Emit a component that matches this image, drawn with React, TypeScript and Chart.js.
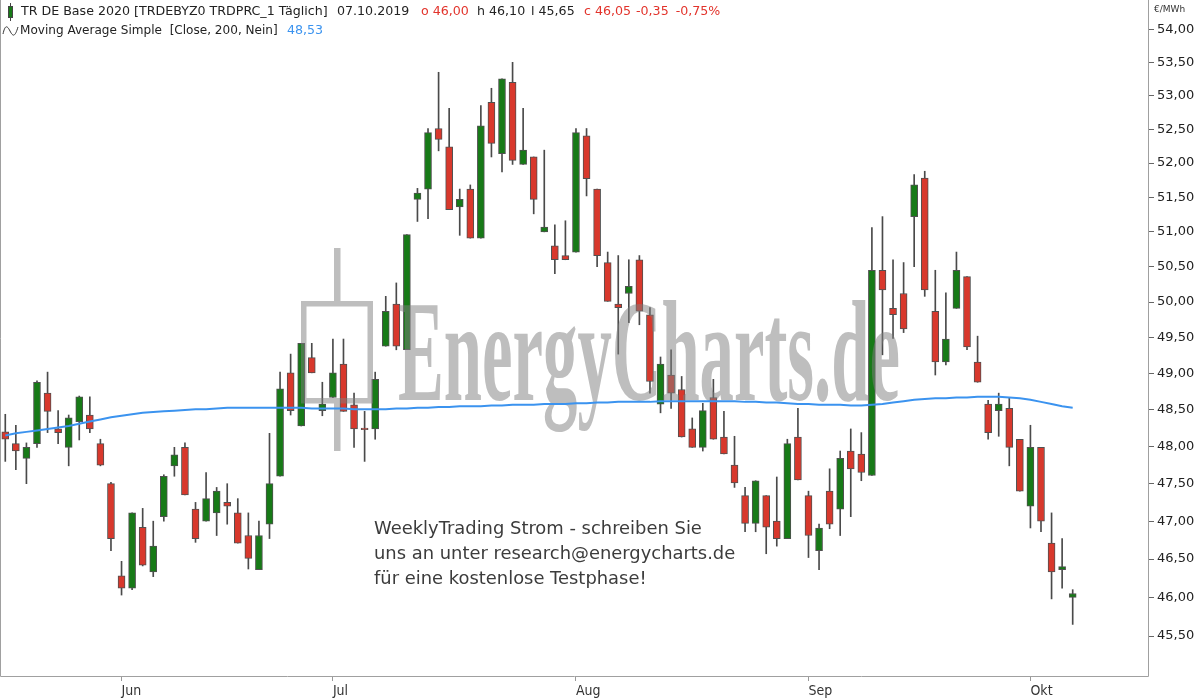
import React, { useEffect, useRef } from "react";
import { Chart, registerables } from "chart.js";
Chart.register(...registerables);

const dates = [
  "2019-05-17","2019-05-20","2019-05-21","2019-05-22","2019-05-23","2019-05-24","2019-05-27","2019-05-28","2019-05-29","2019-05-30","2019-05-31",
  "2019-06-03","2019-06-04","2019-06-05","2019-06-06","2019-06-07","2019-06-10","2019-06-11","2019-06-12","2019-06-13","2019-06-14",
  "2019-06-17","2019-06-18","2019-06-19","2019-06-20","2019-06-21","2019-06-24","2019-06-25","2019-06-26","2019-06-27","2019-06-28",
  "2019-07-01","2019-07-02","2019-07-03","2019-07-04","2019-07-05","2019-07-08","2019-07-09","2019-07-10","2019-07-11","2019-07-12",
  "2019-07-15","2019-07-16","2019-07-17","2019-07-18","2019-07-19","2019-07-22","2019-07-23","2019-07-24","2019-07-25","2019-07-26",
  "2019-07-29","2019-07-30","2019-07-31",
  "2019-08-01","2019-08-02","2019-08-05","2019-08-06","2019-08-07","2019-08-08","2019-08-09","2019-08-12","2019-08-13","2019-08-14",
  "2019-08-15","2019-08-16","2019-08-19","2019-08-20","2019-08-21","2019-08-22","2019-08-23","2019-08-26","2019-08-27","2019-08-28",
  "2019-08-29","2019-08-30",
  "2019-09-02","2019-09-03","2019-09-04","2019-09-05","2019-09-06","2019-09-09","2019-09-10","2019-09-11","2019-09-12","2019-09-13",
  "2019-09-16","2019-09-17","2019-09-18","2019-09-19","2019-09-20","2019-09-23","2019-09-24","2019-09-25","2019-09-26","2019-09-27",
  "2019-09-30",
  "2019-10-01","2019-10-02","2019-10-03","2019-10-04","2019-10-07",
];

const opens = [
  48.20,48.04,47.84,48.04,48.73,48.24,47.99,48.34,48.43,48.04,47.50,
  46.28,46.12,46.92,46.33,47.06,47.74,47.99,47.16,47.00,47.11,
  47.25,47.11,46.81,46.36,46.96,47.60,49.01,48.28,49.22,48.49,
  48.67,49.13,48.57,48.25,48.24,49.38,49.97,49.33,51.47,51.62,
  52.51,52.24,51.36,51.62,50.91,52.90,52.14,53.20,51.98,52.09,
  51.00,50.80,50.66,
  50.71,52.40,51.62,50.56,49.97,50.12,50.60,49.82,48.58,48.98,
  48.78,48.24,47.99,48.67,48.13,47.75,47.34,46.97,47.34,47.00,
  46.77,48.13,
  47.34,46.61,47.40,47.16,47.94,47.90,47.61,50.45,49.91,50.12,
  51.22,51.78,49.87,49.16,49.91,50.36,49.16,48.58,48.49,48.52,
  48.10,
  47.20,47.99,46.71,46.36,46.00,
];
const highs = [
  48.44,48.29,48.05,48.90,49.02,48.49,48.43,48.69,48.68,48.10,47.52,
  46.47,47.11,47.17,47.00,47.62,47.99,48.05,47.25,47.65,47.45,
  47.50,47.30,47.11,47.00,48.18,49.02,49.27,49.42,49.42,48.88,
  49.48,49.48,48.73,48.48,49.02,50.08,50.27,50.96,51.63,52.51,
  53.35,52.81,51.62,51.68,52.85,53.11,53.25,53.50,52.81,52.09,
  52.19,51.10,51.16,
  52.51,52.51,51.62,50.71,50.66,50.60,50.66,49.92,49.23,49.33,
  48.96,48.39,48.59,48.92,48.48,48.14,47.45,47.54,47.34,47.59,
  48.10,48.52,
  47.40,46.96,47.70,47.94,48.24,48.19,51.06,51.22,50.60,50.56,
  51.83,51.88,50.45,50.13,50.71,50.36,49.52,48.63,48.73,48.66,
  48.10,
  48.29,47.99,47.11,46.77,46.10,
];
const lows = [
  47.80,47.69,47.50,47.99,48.19,48.04,47.74,48.09,48.19,47.74,46.61,
  46.03,46.10,46.41,46.27,47.00,47.60,47.35,46.72,47.00,46.81,
  46.96,46.71,46.37,46.36,46.77,47.60,48.43,48.28,49.01,48.42,
  48.67,48.48,47.99,47.80,48.10,49.38,49.33,49.33,51.15,51.19,
  52.18,51.32,50.95,50.91,50.91,52.09,51.87,51.98,51.98,51.26,
  51.00,50.40,50.60,
  50.71,51.52,50.50,50.01,49.27,49.71,49.68,48.73,48.46,48.52,
  48.13,47.99,47.94,48.10,47.90,47.45,46.86,46.86,46.57,46.67,
  46.77,47.55,
  46.52,46.36,46.90,46.81,47.06,47.54,47.61,49.26,49.49,49.57,
  50.50,50.08,48.98,49.12,49.91,49.33,48.88,48.10,48.14,47.74,
  47.40,
  46.91,46.86,45.98,46.12,45.65,
];
const closes = [
  48.10,47.94,47.99,48.88,48.48,48.19,48.39,48.68,48.24,47.75,46.77,
  46.12,47.11,46.42,46.67,47.60,47.89,47.35,46.77,47.30,47.40,
  47.20,46.71,46.51,46.81,47.50,48.79,48.49,49.42,49.01,48.58,
  49.01,48.48,48.24,48.23,48.92,49.87,49.38,50.96,51.56,52.45,
  52.35,51.32,51.47,50.91,52.55,52.29,53.25,52.04,52.19,51.47,
  51.07,50.60,50.60,
  52.45,51.77,50.66,50.01,49.92,50.22,49.87,48.89,49.13,48.73,
  48.13,47.99,48.49,48.10,47.90,47.51,46.97,47.54,46.92,46.77,
  48.04,47.55,
  46.81,46.91,46.96,47.84,47.70,47.65,50.45,50.17,49.82,49.62,
  51.68,50.17,49.16,49.48,50.45,49.37,48.88,48.19,48.58,47.99,
  47.40,
  47.99,47.00,46.33,46.40,46.05,
];
const ma200 = [
  48.15,48.18,48.20,48.22,48.24,48.26,48.28,48.31,48.34,48.37,48.40,
  48.42,48.44,48.46,48.47,48.48,48.49,48.50,48.51,48.51,48.52,
  48.53,48.53,48.53,48.53,48.53,48.53,48.53,48.53,48.52,48.52,
  48.52,48.52,48.51,48.51,48.51,48.51,48.52,48.52,48.53,48.53,
  48.54,48.54,48.55,48.55,48.55,48.56,48.56,48.57,48.57,48.57,
  48.58,48.58,48.58,
  48.59,48.59,48.60,48.60,48.61,48.61,48.61,48.61,48.62,48.62,
  48.62,48.62,48.62,48.62,48.62,48.62,48.61,48.61,48.60,48.60,
  48.59,48.58,
  48.58,48.57,48.57,48.57,48.56,48.56,48.57,48.58,48.60,48.62,
  48.64,48.65,48.66,48.66,48.67,48.67,48.68,48.68,48.68,48.67,
  48.66,
  48.64,48.61,48.58,48.55,48.53,
];

const yTicks = [45.5, 46, 46.5, 47, 47.5, 48, 48.5, 49, 49.5, 50, 50.5, 51, 51.5, 52, 52.5, 53, 53.5, 54];
const monthNames = ["Jan", "Feb", "Mär", "Apr", "Mai", "Jun", "Jul", "Aug", "Sep", "Okt", "Nov", "Dez"];
const instrument = "TR DE Base 2020 [TRDEBYZ0 TRDPRC_1 Täglich]";
const maLabel = "Moving Average Simple  [Close, 200, Nein]";
const noteLines = ["WeeklyTrading Strom - schreiben Sie", "uns an unter research@energycharts.de", "für eine kostenlose Testphase!"];
const watermarkText = "EnergyCharts.de";
const unitLabel = "€/MWh";

const GREEN = "#177a17";
const RED = "#d8382c";
const HEADER_RED = "#e2332b";
const BLUE = "#3b93ef";
const SANS = '"DejaVu Sans", Verdana, sans-serif';

const fmt = (v: number) => v.toFixed(2).replace(".", ",");
const monthOf = (d: string) => parseInt(d.slice(5, 7), 10);
const monthStarts = dates.map((d, i) => (i > 0 && monthOf(d) !== monthOf(dates[i - 1]) ? i : -1)).filter((i) => i >= 0);

function fitSize(ctx: CanvasRenderingContext2D, text: string, target: number, family: string, base: number, weight = "") {
  ctx.font = `${weight} ${base}px ${family}`;
  const w = ctx.measureText(text).width;
  return (base * target) / w;
}

const decorPlugin = {
  id: "decor",
  afterDatasetDraw(chart: any, args: any) {
    if (args.index !== 1) return;
    const ctx: CanvasRenderingContext2D = chart.ctx;
    ctx.save();
    ctx.fillStyle = "rgba(125,125,125,0.5)";
    ctx.beginPath();
    ctx.rect(334, 248, 6.5, 56);
    ctx.rect(301, 301, 72, 5.5);
    ctx.rect(301, 301, 5.5, 102);
    ctx.rect(367.5, 301, 5.5, 102);
    ctx.rect(301, 398, 72, 5.5);
    ctx.rect(334, 398, 6.5, 53);
    ctx.fill();
    ctx.font = 'bold 143px "Liberation Serif", "Times New Roman", serif';
    const w = ctx.measureText(watermarkText).width;
    ctx.translate(398, 400);
    ctx.scale(502 / w, 1);
    ctx.textBaseline = "alphabetic";
    ctx.textAlign = "left";
    ctx.fillText(watermarkText, 0, 0);
    ctx.restore();
  },
  afterDraw(chart: any) {
    const ctx: CanvasRenderingContext2D = chart.ctx;
    const ca = chart.chartArea;
    ctx.save();
    ctx.strokeStyle = "#a0a0a0";
    ctx.lineWidth = 1;
    ctx.beginPath();
    ctx.moveTo(0.5, 0);
    ctx.lineTo(0.5, ca.bottom + 0.5);
    ctx.lineTo(ca.right - 0.5, ca.bottom + 0.5);
    ctx.lineTo(ca.right - 0.5, 0);
    ctx.stroke();

    const n = closes.length;
    const last = n - 1;
    const chg = closes[last] - closes[last - 1];
    const pct = (chg / closes[last - 1]) * 100;
    const d = dates[last];
    const dateStr = `${d.slice(8, 10)}.${d.slice(5, 7)}.${d.slice(0, 4)}`;
    const size = fitSize(ctx, instrument, 307, SANS, 12);
    ctx.font = `${size}px ${SANS}`;
    ctx.textBaseline = "middle";
    ctx.textAlign = "left";
    ctx.strokeStyle = "#444";
    ctx.beginPath();
    ctx.moveTo(10.5, 3);
    ctx.lineTo(10.5, 21);
    ctx.stroke();
    ctx.fillStyle = GREEN;
    ctx.fillRect(8, 6, 5, 12);
    ctx.strokeRect(8.5, 6.5, 4, 11);
    const y1 = 12;
    const seg: [number, string, string][] = [
      [21, instrument, "#222"],
      [337, dateStr, "#222"],
      [421, `o ${fmt(opens[last])}`, HEADER_RED],
      [477, `h ${fmt(highs[last])}`, "#222"],
      [531, `l ${fmt(lows[last])}`, "#222"],
      [584, `c ${fmt(closes[last])}`, HEADER_RED],
      [636, fmt(chg), HEADER_RED],
    ];
    seg.forEach(([x, t, c]) => {
      ctx.fillStyle = c;
      ctx.fillText(t, x, y1);
    });
    const chgW = ctx.measureText(fmt(chg)).width;
    ctx.fillStyle = HEADER_RED;
    ctx.fillText(`${fmt(pct)}%`, 636 + chgW + 7, y1);

    const y2 = 31;
    ctx.strokeStyle = "#333";
    ctx.lineWidth = 1;
    ctx.beginPath();
    ctx.moveTo(3, y2 + 3);
    ctx.bezierCurveTo(5, y2 - 6, 7, y2 - 6, 10, y2);
    ctx.bezierCurveTo(13, y2 + 6, 15, y2 + 6, 18, y2 - 4);
    ctx.stroke();
    const ms = fitSize(ctx, maLabel, 258, SANS, 12);
    ctx.font = `${ms}px ${SANS}`;
    ctx.fillStyle = "#222";
    ctx.fillText(maLabel, 20, y2);
    ctx.font = `${size}px ${SANS}`;
    ctx.fillStyle = BLUE;
    ctx.fillText(fmt(ma200[last]), 287, y2);

    ctx.fillStyle = "#333";
    ctx.font = `9px ${SANS}`;
    ctx.fillText(unitLabel, 1154, 10);

    const ns = fitSize(ctx, noteLines[0], 328, SANS, 18);
    ctx.font = `${ns}px ${SANS}`;
    ctx.fillStyle = "#3c3c3c";
    ctx.textBaseline = "alphabetic";
    noteLines.forEach((t, i) => ctx.fillText(t, 374, 534 + i * 25));
    ctx.restore();
  },
};

export default function App() {
  const ref = useRef<HTMLCanvasElement | null>(null);
  useEffect(() => {
    document.body.style.margin = "0";
    const canvas = ref.current;
    if (!canvas) return;
    const colors = opens.map((o, i) => (closes[i] >= o ? GREEN : RED));
    const chart = new Chart(canvas, {
      type: "bar",
      data: {
        datasets: [
          {
            type: "bar",
            label: "Docht",
            data: lows.map((l, i) => ({ x: i, y: [l, highs[i]] })) as any,
            backgroundColor: "#4a4a4a",
            borderWidth: 0,
            barThickness: 1,
            grouped: false,
            order: 3,
          },
          {
            type: "bar",
            label: "TR DE Base 2020",
            data: opens.map((o, i) => ({ x: i, y: [o, closes[i]] })) as any,
            backgroundColor: colors,
            borderColor: "#505050",
            borderWidth: 1,
            borderSkipped: false,
            barThickness: 7,
            grouped: false,
            order: 2,
          },
          {
            type: "line",
            label: "Moving Average Simple",
            data: ma200.map((v, i) => ({ x: i, y: v })) as any,
            borderColor: BLUE,
            borderWidth: 2,
            pointRadius: 0,
            tension: 0,
            fill: false,
            order: 1,
          },
        ],
      },
      options: {
        animation: false,
        responsive: false,
        maintainAspectRatio: false,
        events: [],
        layout: { padding: 0 },
        plugins: { legend: { display: false }, tooltip: { enabled: false }, title: { display: false } },
        scales: {
          x: {
            type: "linear",
            min: -0.5,
            max: 108.22,
            offset: false,
            afterBuildTicks: (s: any) => {
              s.ticks = monthStarts.map((v) => ({ value: v }));
            },
            afterFit: (s: any) => {
              s.height = 24;
              s.paddingLeft = 0;
              s.paddingRight = 0;
            },
            ticks: {
              autoSkip: false,
              maxRotation: 0,
              minRotation: 0,
              align: "start",
              padding: 2,
              color: "#333",
              font: { family: '"Liberation Sans Narrow", "DejaVu Sans Condensed", "Liberation Sans", sans-serif', size: 14 },
              callback: (v: any) => monthNames[monthOf(dates[Math.round(Number(v))]) - 1],
            },
            grid: { drawOnChartArea: false, drawTicks: true, tickLength: 5, color: "#999", offset: false },
            border: { display: false },
          },
          y: {
            type: "logarithmic",
            position: "right",
            min: 44.99,
            max: 54.45,
            afterBuildTicks: (s: any) => {
              s.ticks = yTicks.map((v) => ({ value: v }));
            },
            afterFit: (s: any) => {
              s.width = 51;
              s.paddingTop = 0;
              s.paddingBottom = 0;
            },
            ticks: {
              autoSkip: false,
              padding: 3,
              color: "#222",
              font: { family: SANS, size: 13 },
              callback: (v: any) => fmt(Number(v)),
            },
            grid: { drawOnChartArea: false, drawTicks: true, tickLength: 5, color: "#666" },
            border: { display: false },
          },
        },
      } as any,
      plugins: [decorPlugin as any],
    });
    return () => chart.destroy();
  }, []);
  return (
    <div style={{ width: 1200, height: 700, background: "#fff" }}>
      <canvas ref={ref} width={1200} height={700} style={{ display: "block" }} />
    </div>
  );
}
